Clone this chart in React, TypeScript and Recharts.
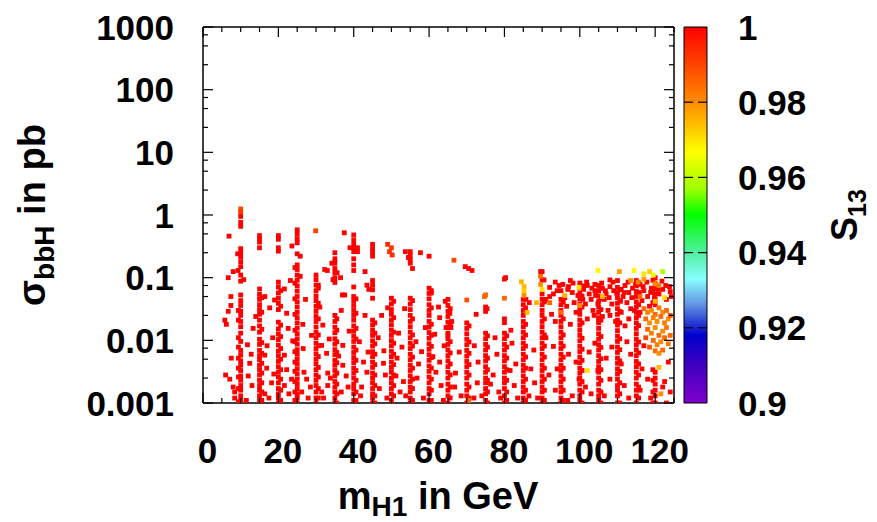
import React from 'react';
import { ScatterChart, Scatter, XAxis, YAxis, ReferenceArea } from 'recharts';

// ---------- axis ticks ----------
const xMajorTicks = [0, 20, 40, 60, 80, 100, 120];
const xAllTicks = [0, 5, 10, 15, 20, 25, 30, 35, 40, 45, 50, 55, 60, 65, 70, 75, 80, 85, 90, 95, 100, 105, 110, 115, 120, 125];
const yMajorTicks = [0.001, 0.01, 0.1, 1, 10, 100, 1000];
const yAllTicks = [0.001, 0.0025, 0.005, 0.0075, 0.01, 0.025, 0.05, 0.075, 0.1, 0.25, 0.5, 0.75, 1, 2.5, 5, 7.5, 10, 25, 50, 75, 100, 250, 500, 750, 1000];
const cbTicks = [0.9, 0.92, 0.94, 0.96, 0.98, 1];

// ---------- data: m_H1 (GeV) columns and sigma_bbH (pb) values ----------
const stripeX = [10, 15, 20, 25, 30, 35, 40, 45, 50, 55, 60, 65, 70, 75, 80, 85, 90, 95, 100, 105, 110, 115, 120];
const stripeY: number[][] = [
  [0.95, 0.76, 0.66, 0.29, 0.25, 0.215, 0.18, 0.15, 0.11, 0.088, 0.053, 0.043, 0.036, 0.029, 0.025, 0.02, 0.0165, 0.013, 0.0096, 0.0069, 0.0058, 0.0047, 0.004, 0.0033, 0.0027, 0.0023, 0.0019, 0.0016, 0.0013, 0.0011, 0.001],
  [0.47, 0.42, 0.37, 0.3, 0.066, 0.054, 0.045, 0.037, 0.031, 0.026, 0.021, 0.017, 0.0135, 0.0104, 0.0086, 0.0069, 0.0057, 0.0049, 0.004, 0.0034, 0.0028, 0.0023, 0.0019, 0.0016, 0.0013, 0.0011],
  [0.47, 0.41, 0.3, 0.265, 0.085, 0.071, 0.057, 0.047, 0.039, 0.031, 0.0195, 0.0152, 0.0126, 0.0103, 0.0084, 0.0067, 0.0056, 0.0046, 0.0038, 0.0031, 0.0026, 0.0021, 0.0017, 0.0014, 0.0012, 0.001],
  [0.58, 0.5, 0.42, 0.36, 0.24, 0.16, 0.135, 0.11, 0.091, 0.074, 0.061, 0.05, 0.041, 0.034, 0.028, 0.023, 0.019, 0.0157, 0.0128, 0.0106, 0.0087, 0.0071, 0.006, 0.005, 0.0042, 0.0035, 0.0029, 0.0024, 0.002, 0.0017, 0.0014, 0.0012, 0.001],
  [0.11, 0.093, 0.076, 0.062, 0.051, 0.043, 0.035, 0.029, 0.024, 0.02, 0.0163, 0.0134, 0.011, 0.009, 0.0074, 0.0061, 0.005, 0.0042, 0.0034, 0.0028, 0.0023, 0.0019, 0.0015, 0.0012, 0.001],
  [0.25, 0.2, 0.17, 0.14, 0.12, 0.1, 0.084, 0.025, 0.02, 0.0162, 0.0132, 0.0106, 0.0087, 0.0071, 0.0059, 0.0048, 0.004, 0.0033, 0.0027, 0.0022, 0.0018, 0.0015, 0.0012, 0.001],
  [0.48, 0.4, 0.34, 0.3, 0.26, 0.2, 0.16, 0.13, 0.071, 0.05, 0.043, 0.036, 0.03, 0.025, 0.021, 0.017, 0.014, 0.0116, 0.0096, 0.0078, 0.0064, 0.0053, 0.0044, 0.0036, 0.003, 0.0025, 0.002, 0.0017, 0.0014, 0.0011],
  [0.34, 0.29, 0.25, 0.22, 0.09, 0.076, 0.064, 0.047, 0.021, 0.0175, 0.0144, 0.012, 0.0098, 0.0081, 0.0066, 0.0055, 0.0045, 0.0037, 0.003, 0.0025, 0.0021, 0.0017, 0.0014, 0.0012, 0.001],
  [0.047, 0.038, 0.031, 0.026, 0.021, 0.0176, 0.0145, 0.012, 0.0099, 0.0082, 0.0067, 0.0055, 0.0045, 0.0037, 0.0031, 0.0025, 0.0021, 0.0017, 0.0014, 0.0011],
  [0.26, 0.22, 0.19, 0.17, 0.047, 0.038, 0.031, 0.025, 0.02, 0.0165, 0.0135, 0.011, 0.009, 0.0074, 0.006, 0.0049, 0.004, 0.0033, 0.0027, 0.0022, 0.0018, 0.0015, 0.0012, 0.001],
  [0.22, 0.068, 0.056, 0.046, 0.037, 0.03, 0.025, 0.02, 0.0163, 0.0133, 0.0108, 0.0088, 0.0072, 0.0059, 0.0048, 0.0039, 0.0032, 0.0026, 0.0021, 0.0017, 0.0014, 0.0011],
  [0.045, 0.036, 0.029, 0.024, 0.0195, 0.016, 0.013, 0.0106, 0.0086, 0.007, 0.0057, 0.0047, 0.0038, 0.0031, 0.0025, 0.002, 0.0016, 0.0013, 0.001],
  [0.019, 0.0155, 0.0127, 0.0104, 0.0085, 0.0069, 0.0056, 0.0046, 0.0038, 0.0031, 0.0025, 0.002, 0.0016, 0.0013, 0.001],
  [0.034, 0.029, 0.013, 0.0106, 0.0086, 0.007, 0.0057, 0.0047, 0.0038, 0.0031, 0.0025, 0.0021, 0.0017, 0.0014, 0.0011],
  [0.095, 0.022, 0.0192, 0.013, 0.0106, 0.0086, 0.007, 0.0057, 0.0047, 0.0038, 0.0031, 0.0025, 0.0021, 0.0017, 0.0013, 0.001],
  [0.045, 0.037, 0.03, 0.025, 0.02, 0.0165, 0.0135, 0.011, 0.009, 0.0074, 0.006, 0.0049, 0.004, 0.0033, 0.0027, 0.0022, 0.0018, 0.0015, 0.0012, 0.001],
  [0.125, 0.092, 0.055, 0.045, 0.037, 0.03, 0.025, 0.02, 0.0165, 0.0135, 0.011, 0.009, 0.0074, 0.006, 0.0049, 0.004, 0.0033, 0.0027, 0.0022, 0.0018, 0.0015, 0.0012, 0.001],
  [0.062, 0.045, 0.037, 0.03, 0.025, 0.02, 0.0165, 0.0135, 0.011, 0.009, 0.0074, 0.006, 0.0049, 0.004, 0.0033, 0.0027, 0.0022, 0.0018, 0.0015, 0.0012, 0.001],
  [0.082, 0.068, 0.056, 0.046, 0.038, 0.031, 0.026, 0.021, 0.0175, 0.0145, 0.012, 0.0098, 0.008, 0.0066, 0.0054, 0.0044, 0.0036, 0.003, 0.0025, 0.002, 0.0016, 0.0013, 0.0011],
  [0.075, 0.062, 0.051, 0.042, 0.034, 0.028, 0.023, 0.019, 0.0155, 0.0127, 0.0104, 0.0085, 0.007, 0.0057, 0.0046, 0.0038, 0.0031, 0.0025, 0.002, 0.0016, 0.0013, 0.0011],
  [0.07, 0.058, 0.048, 0.039, 0.032, 0.026, 0.021, 0.0175, 0.0143, 0.0117, 0.0096, 0.0078, 0.0064, 0.0052, 0.0043, 0.0035, 0.0029, 0.0024, 0.0019, 0.0016, 0.0013, 0.001],
  [0.09, 0.074, 0.06, 0.05, 0.041, 0.034, 0.028, 0.023, 0.019, 0.0155, 0.0127, 0.0104, 0.0085, 0.007, 0.0057, 0.0046, 0.0038, 0.0031, 0.0025, 0.002, 0.0016, 0.0013, 0.001],
  [0.1, 0.082, 0.067, 0.055, 0.045, 0.037, 0.0031, 0.0025, 0.002, 0.0016, 0.0013, 0.001],
];

// second, slightly offset column of points beside each main column
const stripeXb = [9.4, 15.6, 20.6, 24.4, 30.6, 35.5, 40.6, 45.6, 50.6, 55.6, 60.6, 65.6, 70.6, 75.5, 80.6, 85.6, 90.6, 95.6, 100.6, 105.6, 110.6, 115.6, 119.4];
const stripeYb: number[][] = [
  [0.03, 0.021, 0.011, 0.0078, 0.0052, 0.0036, 0.0026, 0.0017, 0.00105],
  [0.048, 0.028, 0.015, 0.0092, 0.0062, 0.0043, 0.003, 0.0021, 0.0015, 0.0011],
  [0.062, 0.035, 0.0175, 0.0115, 0.0074, 0.005, 0.0034, 0.0024, 0.0016, 0.0011],
  [0.145, 0.082, 0.046, 0.026, 0.0145, 0.0095, 0.0066, 0.0045, 0.0032, 0.0022, 0.0015, 0.0011],
  [0.068, 0.039, 0.022, 0.0122, 0.0082, 0.0055, 0.0037, 0.0026, 0.0017, 0.0012],
  [0.022, 0.0145, 0.0095, 0.0064, 0.0044, 0.003, 0.002, 0.0014, 0.001],
  [0.046, 0.027, 0.0155, 0.0105, 0.007, 0.0048, 0.0033, 0.0023, 0.0015, 0.0011],
  [0.019, 0.013, 0.0088, 0.006, 0.0041, 0.0028, 0.0019, 0.0013, 0.001],
  [0.042, 0.023, 0.0135, 0.009, 0.006, 0.0041, 0.0028, 0.0019, 0.0013],
  [0.043, 0.022, 0.0122, 0.0081, 0.0054, 0.0036, 0.0024, 0.0017, 0.0011],
  [0.062, 0.033, 0.018, 0.012, 0.008, 0.0053, 0.0036, 0.0024, 0.0016, 0.0011],
  [0.032, 0.0175, 0.0095, 0.0063, 0.0042, 0.0028, 0.0018, 0.0012],
  [0.017, 0.0094, 0.0062, 0.0041, 0.0028, 0.0018, 0.0012],
  [0.0118, 0.0078, 0.0052, 0.0034, 0.0023, 0.0015, 0.001],
  [0.0118, 0.0078, 0.0052, 0.0034, 0.0023, 0.0015, 0.0011],
  [0.033, 0.018, 0.0122, 0.0081, 0.0054, 0.0036, 0.0024, 0.0016, 0.0011],
  [0.041, 0.022, 0.0122, 0.0081, 0.0054, 0.0036, 0.0024, 0.0016, 0.0011],
  [0.041, 0.022, 0.0122, 0.0081, 0.0054, 0.0036, 0.0024, 0.0016, 0.0011],
  [0.074, 0.051, 0.034, 0.019, 0.0108, 0.0072, 0.0048, 0.0033, 0.0022, 0.0015, 0.001],
  [0.068, 0.046, 0.031, 0.021, 0.0115, 0.0077, 0.0051, 0.0034, 0.0023, 0.0015, 0.001],
  [0.064, 0.043, 0.029, 0.019, 0.0106, 0.0071, 0.0047, 0.0032, 0.0021, 0.0014, 0.001],
  [0.082, 0.055, 0.037, 0.025, 0.0172, 0.0094, 0.0063, 0.0042, 0.0028, 0.0018, 0.0012],
  [0.091, 0.06, 0.04, 0.0034, 0.0023, 0.0015, 0.001],
];

// scattered points between the columns: [m_H1, sigma]
const extraPoints: [number, number][] = [
  [6.9, 0.46], [6.7, 0.1], [7.4, 0.05], [7.4, 0.036], [6.7, 0.029], [5.8, 0.021], [6.2, 0.018], [7.5, 0.0052], [6, 0.0028], [7.1, 0.0024],
  [8, 0.0018], [8.4, 0.0015], [8.4, 0.0012], [8, 0.125], [9.3, 0.13], [9.2, 0.24], [10.8, 0.093], [12.4, 0.0043], [12, 0.0027], [13.3, 0.0155],
  [16.4, 0.05], [17.7, 0.033], [16.4, 0.0058], [16.9, 0.0036], [18.2, 0.0021], [16.4, 0.0014], [21.6, 0.066], [22.2, 0.027], [22.6, 0.0155], [21.6, 0.0058],
  [22.2, 0.0034], [21.6, 0.0019], [22.8, 0.0014], [23.2, 0.09], [23.6, 0.32], [25.8, 0.22], [27.5, 0.0024], [26.2, 0.0015], [25.8, 0.105], [26.6, 0.0074],
  [27.9, 0.0012], [30.6, 0.076], [31, 0.034], [31.5, 0.0083], [32.8, 0.0062], [31.5, 0.0015], [33.1, 0.0019], [32.3, 0.135], [33.1, 0.003], [33, 0.13],
  [34.2, 0.17], [35.6, 0.12], [34.5, 0.093], [36.7, 0.03], [37.1, 0.0083], [37.1, 0.004], [36.7, 0.0015], [38.5, 0.0018], [37.6, 0.053], [37.5, 0.52],
  [36.5, 0.1], [37, 0.053], [39, 0.3], [41, 0.3], [41, 0.26], [43, 0.125], [43, 0.025], [42.1, 0.0018], [42.6, 0.0045], [43.5, 0.076],
  [44, 0.065], [47.9, 0.0043], [48.4, 0.0028], [47.4, 0.025], [51.9, 0.013], [52.8, 0.0078], [53.2, 0.0022], [52.3, 0.0015], [53.7, 0.26], [54.5, 0.21],
  [55.6, 0.14], [57.7, 0.25], [60.6, 0.057], [58, 0.0066], [61, 0.0055], [62.8, 0.0045], [62.8, 0.023], [65, 0.012], [63.2, 0.0019], [64.5, 0.016],
  [64.3, 0.042], [65.5, 0.027], [66, 0.02], [65.8, 0.016], [69.6, 0.15], [71.4, 0.13], [70.5, 0.14], [72.5, 0.026], [71.9, 0.0012], [75.4, 0.032],
  [76.3, 0.002], [80.3, 0.1], [81.7, 0.0145], [82.6, 0.0019], [85.7, 0.045], [86.6, 0.04], [89.6, 0.125], [90.5, 0.092], [87.8, 0.007],
  [92, 0.07], [93, 0.055], [94, 0.062], [96, 0.048], [97, 0.072], [98, 0.058], [96.5, 0.035], [98.5, 0.04], [99, 0.028], [101, 0.065],
  [102, 0.075], [102.5, 0.055], [103, 0.045], [101.5, 0.038], [103.5, 0.03], [104, 0.062], [106, 0.068], [107, 0.055], [108, 0.072], [106.5, 0.045],
  [108.5, 0.038], [107.5, 0.03], [109, 0.062], [111, 0.065], [112, 0.075], [111.5, 0.05], [112.5, 0.04], [113, 0.058], [113.5, 0.032], [114, 0.068],
  [116, 0.078], [117, 0.062], [118, 0.05], [116.5, 0.043], [118.5, 0.035], [119, 0.068], [121, 0.055], [122, 0.065], [123, 0.045], [124, 0.06],
  [92.5, 0.026], [93.5, 0.02], [97.5, 0.018], [102, 0.022], [106, 0.024], [109.5, 0.02], [112, 0.017], [91, 0.011], [93, 0.008], [97, 0.006],
  [99, 0.0045], [102.5, 0.0065], [104, 0.009], [107, 0.0052], [108.5, 0.0078], [111, 0.0042], [112.5, 0.0095], [113.5, 0.006], [116.5, 0.0035], [117, 0.0082],
  [118, 0.0024], [122.5, 0.0022], [123.5, 0.0045], [124, 0.0015], [123, 0.001], [103, 0.0014], [98, 0.0013], [93.5, 0.0016], [88, 0.0021], [87, 0.0035],
  [83, 0.0042], [82, 0.009], [78, 0.006], [77.5, 0.011], [73, 0.0045], [72, 0.0082], [68, 0.0065], [67, 0.003], [68.5, 0.0013], [78.5, 0.0015], [83.5, 0.0012],
  [95.5, 0.078], [96.8, 0.065], [98.2, 0.082], [99.5, 0.052], [100.8, 0.045], [101.8, 0.085], [103.2, 0.068], [104.2, 0.052], [104.8, 0.038], [105.8, 0.082],
  [106.8, 0.062], [107.8, 0.048], [108.8, 0.085], [109.8, 0.056], [110.8, 0.042], [111.8, 0.058], [112.8, 0.085], [113.8, 0.048], [114.8, 0.078], [115.8, 0.058],
  [116.8, 0.072], [117.8, 0.085], [118.8, 0.058], [119.8, 0.048], [120.8, 0.065], [121.8, 0.088], [122.8, 0.075], [123.8, 0.072], [124.3, 0.05], [110, 0.09],
  [108, 0.092], [104, 0.078], [101, 0.072], [97.5, 0.09], [94.5, 0.075], [93.5, 0.085], [92, 0.05], [91, 0.045], [103.8, 0.025], [105, 0.021],
  [108, 0.025], [111, 0.028], [113, 0.022], [116, 0.028], [114.5, 0.03],
  [11.5, 0.0011], [13, 0.0019], [17.5, 0.0012], [18.8, 0.0029], [23.5, 0.0024], [26.8, 0.0031], [28.5, 0.0018], [32, 0.0012], [33.8, 0.0025], [38, 0.0027],
  [41.8, 0.0013], [43.5, 0.0031], [46.8, 0.0017], [48.8, 0.0012], [51.2, 0.0027], [53.8, 0.0013], [56.8, 0.0025], [58.5, 0.0012], [61.8, 0.0031], [63.8, 0.0011],
  [66.8, 0.0018], [72.8, 0.0021], [74, 0.0013], [77, 0.0028], [79, 0.0012], [81.5, 0.0033], [86.5, 0.0013], [88.8, 0.0012], [91.8, 0.0028], [94, 0.0035],
  [96.8, 0.0011], [99.8, 0.0024], [101.5, 0.0018], [104.8, 0.0033], [106.5, 0.0013], [108, 0.0024], [111.8, 0.0019], [113, 0.0012], [116, 0.0016], [118.8, 0.0012],
  [122, 0.0018], [11.8, 0.0085], [12.8, 0.006], [14, 0.024], [18.5, 0.011], [17, 0.0082], [19, 0.044], [23.8, 0.0098], [26.5, 0.018], [28.8, 0.012],
  [27.2, 0.045], [31.8, 0.0175], [33.5, 0.0105], [36, 0.0056], [38.8, 0.014], [41.5, 0.0095], [43.8, 0.0065], [46.5, 0.011], [48, 0.0068], [49, 0.033],
  [51.5, 0.0052], [53.5, 0.032], [56.5, 0.0095], [57.2, 0.0042], [59, 0.016], [61.5, 0.0125], [62.5, 0.034], [64, 0.0082],
];

// points with S13 noticeably below 1: [m_H1, sigma, S13]
const tintedPoints: [number, number, number][] = [
  [10, 1.25, 0.99], [10, 1.12, 0.992], [29.9, 0.56, 0.99], [49, 0.34, 0.993], [50, 0.3, 0.992], [49.5, 0.26, 0.993], [50.2, 0.23, 0.994], [66.6, 0.19, 0.99],
  [74.7, 0.05, 0.985], [80, 0.047, 0.985], [70, 0.044, 0.988], [75, 0.053, 0.985], [85.2, 0.072, 0.975], [85.2, 0.062, 0.972], [85.2, 0.052, 0.98],
  [89.6, 0.105, 0.985], [89.6, 0.078, 0.98], [90, 0.065, 0.97], [99.8, 0.07, 0.97], [104.8, 0.13, 0.968], [110.5, 0.125, 0.978], [114.4, 0.13, 0.968],
  [117, 0.115, 0.97], [119.5, 0.11, 0.965], [118.5, 0.125, 0.972], [122, 0.125, 0.958], [113.5, 0.09, 0.98], [115.5, 0.085, 0.982], [117, 0.095, 0.978],
  [120, 0.08, 0.98], [121, 0.075, 0.982], [102, 0.0033, 0.97], [121, 0.0037, 0.975], [121.5, 0.0014, 0.98], [70.5, 0.0011, 0.985],
  [117, 0.032, 0.985], [118, 0.028, 0.982], [119, 0.03, 0.98], [120, 0.026, 0.985], [121, 0.033, 0.983], [122, 0.028, 0.98], [123, 0.03, 0.985],
  [117.5, 0.022, 0.985], [118.5, 0.019, 0.98], [119.5, 0.023, 0.982], [120.5, 0.02, 0.98], [121.5, 0.024, 0.985], [122.5, 0.019, 0.982], [123.5, 0.022, 0.98],
  [118, 0.015, 0.985], [119, 0.013, 0.982], [120, 0.016, 0.98], [121, 0.012, 0.985], [122, 0.014, 0.98], [123, 0.016, 0.983], [119.5, 0.01, 0.985],
  [120.5, 0.0085, 0.982], [121.5, 0.0095, 0.98], [122.5, 0.011, 0.985], [123.5, 0.0088, 0.982], [120, 0.0068, 0.985], [121, 0.0062, 0.98], [122, 0.007, 0.985],
  [118.5, 0.0078, 0.988], [117.5, 0.011, 0.99], [124, 0.012, 0.985], [124, 0.025, 0.988], [120, 0.042, 0.975], [122.5, 0.048, 0.97], [116, 0.05, 0.985],
  [96, 0.052, 0.975], [106, 0.05, 0.975], [100, 0.036, 0.98], [95, 0.028, 0.985], [92, 0.04, 0.985], [88.5, 0.04, 0.975], [86, 0.028, 0.975], [84.5, 0.086, 0.975],
];

// ---------- colour palette for S13 (0.9 .. 1), offset 0 = top (S13 = 1) ----------
const paletteStops: [number, string][] = [
  [0.0, '#ff0000'], [0.1, '#ff4400'], [0.2, '#ff8c00'], [0.27, '#ffc800'], [0.33, '#ffff00'], [0.43, '#a0ff00'],
  [0.5, '#00ff00'], [0.6, '#50f0a0'], [0.67, '#88ffff'], [0.74, '#6090e0'], [0.82, '#0000cc'], [0.9, '#4000c0'], [1.0, '#8000cc'],
];

function hexToRgb(h: string) {
  return [parseInt(h.slice(1, 3), 16), parseInt(h.slice(3, 5), 16), parseInt(h.slice(5, 7), 16)];
}
function s13Color(s: number) {
  const t = Math.min(1, Math.max(0, (1 - s) / 0.1));
  for (let i = 0; i < paletteStops.length - 1; i++) {
    const [a, ca] = paletteStops[i];
    const [b, cb] = paletteStops[i + 1];
    if (t >= a && t <= b) {
      const f = b === a ? 0 : (t - a) / (b - a);
      const A = hexToRgb(ca), B = hexToRgb(cb);
      const c = A.map((v, k) => Math.round(v + (B[k] - v) * f));
      return `rgb(${c[0]},${c[1]},${c[2]})`;
    }
  }
  return paletteStops[paletteStops.length - 1][1];
}

const points = [
  ...stripeX.flatMap((x, i) => stripeY[i].map((y) => ({ x, y, s: 1 }))),
  ...stripeXb.flatMap((x, i) => stripeYb[i].map((y) => ({ x, y, s: 1 }))),
  ...extraPoints.map(([x, y]) => ({ x, y, s: 1 })),
  ...tintedPoints.map(([x, y, s]) => ({ x, y, s })),
];
const anchorPoint = [{ x: 60, y: 1 }];
const cbAnchor = [{ c: 0.5, v: 0.95 }];

const FONT = '"Liberation Sans", Arial, Helvetica, sans-serif';
const TICK_FS = 35;
const TITLE_FS = 38;
const SUB_FS = 28;

const Square = (props: any) => {
  const { cx, cy, payload } = props;
  if (cx == null || cy == null) return <g />;
  return <rect x={cx - 2.4} y={cy - 2.4} width={4.8} height={4.8} fill={s13Color(payload.s)} />;
};
const Empty = () => <g />;

const XTickBottom = (props: any) => {
  const { x, y, payload } = props;
  const major = xMajorTicks.includes(payload.value);
  return (
    <g>
      <line x1={x} x2={x} y1={y} y2={y - (major ? 10 : 5)} stroke="#000" strokeWidth={1.2} />
      {major && (
        <text x={x + 4.5} y={y + 60} textAnchor="middle" fontFamily={FONT} fontWeight="bold" fontSize={TICK_FS} fill="#000">
          {payload.value}
        </text>
      )}
    </g>
  );
};
const XTickTop = (props: any) => {
  const { x, y, payload } = props;
  const major = xMajorTicks.includes(payload.value);
  return <line x1={x} x2={x} y1={y} y2={y + (major ? 10 : 5)} stroke="#000" strokeWidth={1.2} />;
};
const YTickLeft = (props: any) => {
  const { x, y, payload } = props;
  const major = yMajorTicks.includes(payload.value);
  return (
    <g>
      <line x1={x} x2={x + (major ? 10 : 5)} y1={y} y2={y} stroke="#000" strokeWidth={1.2} />
      {major && (
        <text x={x - 29} y={y} dy="0.36em" textAnchor="end" fontFamily={FONT} fontWeight="bold" fontSize={TICK_FS} fill="#000">
          {String(payload.value)}
        </text>
      )}
    </g>
  );
};
const YTickRight = (props: any) => {
  const { x, y, payload } = props;
  const major = yMajorTicks.includes(payload.value);
  return <line x1={x} x2={x - (major ? 10 : 5)} y1={y} y2={y} stroke="#000" strokeWidth={1.2} />;
};
const CbTick = (props: any) => {
  const { x, y, payload } = props;
  const inner = payload.value > 0.9 && payload.value < 1;
  return (
    <g>
      {inner && <line x1={x - 23} x2={x - 14} y1={y} y2={y} stroke="#000" strokeWidth={1.2} />}
      {inner && <line x1={x - 9} x2={x} y1={y} y2={y} stroke="#000" strokeWidth={1.2} />}
      <text x={x + 31} y={y} dy="0.36em" textAnchor="start" fontFamily={FONT} fontWeight="bold" fontSize={TICK_FS} fill="#000">
        {String(payload.value)}
      </text>
    </g>
  );
};

const axisLineStyle = { stroke: '#000', strokeWidth: 1.5 };

export default function App() {
  return (
    <div style={{ position: 'absolute', left: 0, top: 0, width: 877, height: 522, background: '#fff' }}>
      <svg width={1} height={1} style={{ position: 'absolute', left: 0, top: 0 }}>
        <defs>
          <linearGradient id="cbGrad" x1="0" y1="0" x2="0" y2="1">
            {paletteStops.map(([o, c]) => (
              <stop key={o} offset={o} stopColor={c} />
            ))}
          </linearGradient>
        </defs>
      </svg>
      <div style={{ position: 'absolute', left: 0, top: 0 }}>
        <ScatterChart width={877} height={522} margin={{ top: 26, right: 202, bottom: 59, left: 83 }}>
          <XAxis xAxisId="b" type="number" dataKey="x" domain={[0, 125]} ticks={xAllTicks} interval={0} allowDataOverflow
            tickLine={false} axisLine={axisLineStyle} tickSize={0} tickMargin={0} height={60} tick={<XTickBottom />} />
          <XAxis xAxisId="t" orientation="top" type="number" dataKey="x" domain={[0, 125]} ticks={xAllTicks} interval={0} allowDataOverflow
            tickLine={false} axisLine={axisLineStyle} tickSize={0} tickMargin={0} height={1} tick={<XTickTop />} />
          <YAxis yAxisId="l" type="number" dataKey="y" scale="log" domain={[0.001, 1000]} ticks={yAllTicks} interval={0} allowDataOverflow
            tickLine={false} axisLine={axisLineStyle} tickSize={0} tickMargin={0} width={120} tick={<YTickLeft />} />
          <YAxis yAxisId="r" orientation="right" type="number" dataKey="y" scale="log" domain={[0.001, 1000]} ticks={yAllTicks} interval={0} allowDataOverflow
            tickLine={false} axisLine={axisLineStyle} tickSize={0} tickMargin={0} width={1} tick={<YTickRight />} />
          <Scatter xAxisId="t" yAxisId="r" data={anchorPoint} isAnimationActive={false} shape={Empty} />
          <Scatter xAxisId="b" yAxisId="l" data={points} isAnimationActive={false} shape={Square} />
        </ScatterChart>
      </div>
      <div style={{ position: 'absolute', left: 0, top: 0 }}>
        <ScatterChart width={877} height={522} margin={{ top: 27, right: 70, bottom: 119, left: 684 }}>
          <XAxis xAxisId="c" dataKey="c" type="number" domain={[0, 1]} hide />
          <YAxis yAxisId="c" dataKey="v" orientation="right" type="number" domain={[0.9, 1]} ticks={cbTicks} interval={0}
            tickLine={false} axisLine={false} tickSize={0} tickMargin={0} width={100} tick={<CbTick />} />
          <ReferenceArea xAxisId="c" yAxisId="c" x1={0} x2={1} y1={0.9} y2={1} fill="url(#cbGrad)" fillOpacity={1} stroke="#000" strokeWidth={1} ifOverflow="visible" />
          <Scatter xAxisId="c" yAxisId="c" data={cbAnchor} isAnimationActive={false} shape={Empty} />
        </ScatterChart>
      </div>
      <svg width={877} height={522} style={{ position: 'absolute', left: 0, top: 0, pointerEvents: 'none' }}>
        <text x={438} y={509} textAnchor="middle" fontFamily={FONT} fontWeight="bold" fontSize={TITLE_FS} fill="#000">
          m<tspan fontSize={SUB_FS} dy={7}>H1</tspan><tspan dy={-7}> in GeV</tspan>
        </text>
        <text transform="rotate(-90)" x={-215} y={45} textAnchor="middle" fontFamily={FONT} fontWeight="bold" fontSize={TITLE_FS} fill="#000">
          σ<tspan fontSize={SUB_FS} dy={9}>bbH</tspan><tspan dy={-9}> in pb</tspan>
        </text>
        <text transform="rotate(-90)" x={-215} y={857} textAnchor="middle" fontFamily={FONT} fontWeight="bold" fontSize={36} fill="#000">
          S<tspan fontSize={25} dy={9}>13</tspan>
        </text>
      </svg>
    </div>
  );
}
